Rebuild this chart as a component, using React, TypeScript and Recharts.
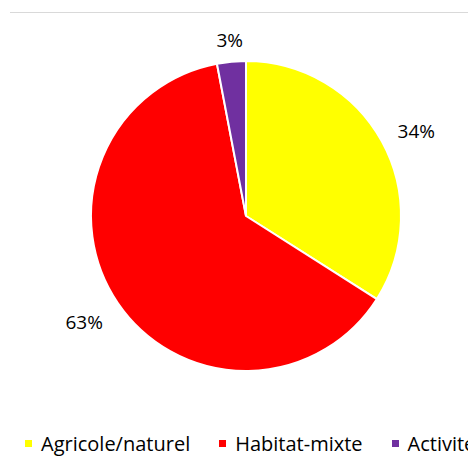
import { PieChart, Pie, Cell, Legend } from 'recharts';

const categories = ['Agricole/naturel', 'Habitat-mixte', 'Activité'];
const shares = [34, 63, 3];
const colors = ['#FFFF00', '#FF0000', '#7030A0'];

const data = categories.map((name, i) => ({ name, value: shares[i] }));

const FONT = '"Open Sans", "Noto Sans", sans-serif';
const RADIAN = Math.PI / 180;

function renderLabel(props: any) {
  const { cx, cy, midAngle, outerRadius, value } = props;
  const r = outerRadius + 18;
  const cos = Math.cos(-midAngle * RADIAN);
  const sin = Math.sin(-midAngle * RADIAN);
  const x = cx + r * cos;
  // labels below the centre sit a bit further out, like Excel's best fit
  const y = cy + r * sin + sin * (sin > 0 ? 16 : 4);
  const anchor = cos > 0.3 ? 'start' : cos < -0.3 ? 'end' : 'middle';
  return (
    <text
      x={x}
      y={y}
      textAnchor={anchor}
      dominantBaseline="central"
      fill="#000"
      fontSize={19}
      fontFamily={FONT}
    >
      {`${value}%`}
    </text>
  );
}

function renderLegend() {
  return (
    <div style={{ display: 'flex', fontFamily: FONT, fontSize: 20, color: '#000', whiteSpace: 'nowrap' }}>
      {categories.map((name, i) => (
        <div key={name} style={{ display: 'flex', alignItems: 'center', marginRight: 29, flexShrink: 0 }}>
          <span style={{ width: 7, height: 7, background: colors[i], display: 'inline-block', marginRight: 9 }} />
          <span>{name}</span>
        </div>
      ))}
    </div>
  );
}

export default function App() {
  return (
    <div style={{ position: 'relative', width: 476, height: 468, margin: -8, overflow: 'hidden', background: '#fff' }}>
      <div style={{ position: 'absolute', left: 10, top: 12, width: 466, height: 1, background: '#d9d9d9' }} />
      <PieChart width={476} height={468} margin={{ top: 0, right: 0, bottom: 0, left: 0 }}>
        <Pie
          data={data}
          dataKey="value"
          nameKey="name"
          cx={246}
          cy={216}
          outerRadius={155}
          startAngle={90}
          endAngle={-270}
          stroke="#fff"
          strokeWidth={2}
          label={renderLabel}
          labelLine={false}
          isAnimationActive={false}
        >
          {data.map((d, i) => (
            <Cell key={d.name} fill={colors[i]} />
          ))}
        </Pie>
        <Legend
          content={renderLegend}
          wrapperStyle={{ position: 'absolute', left: 25, top: 430, width: 600 }}
        />
      </PieChart>
    </div>
  );
}
